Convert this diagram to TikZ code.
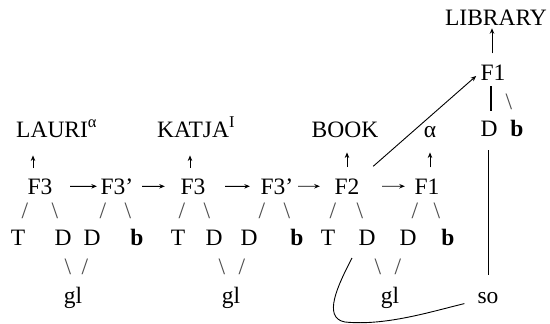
\documentclass[tikz,border=0pt]{standalone}
\usepackage{fontspec}
\setmainfont{Liberation Serif}
\usetikzlibrary{arrows.meta}
\begin{document}
\begin{tikzpicture}[x=1pt,y=-1pt,
  t/.style={inner sep=0pt, anchor=base, font=\fontsize{23.5}{27}\selectfont},
  tw/.style={t, anchor=base west},
  sl/.style={t, text=black!70},
  arr/.style={-{Stealth[length=5.5pt,width=4.5pt]}, line width=0.9pt},
  ln/.style={line width=0.9pt}]
\useasboundingbox (0,0) rectangle (550,324);
% top right
\node[t] (lib) at (496,25) {LIBRARY};
\node[t] (f1t) at (493,80) {F1};
\node[sl] (bst) at (509,109) {\textbackslash};
\node[t] (dt) at (489,136) {D};
\node[t] (bt) at (517,136) {\textbf{b}};
\node[t] (so) at (488,303) {so};
% labels
\node[tw] (lauri) at (16,137) {LAURI\textsuperscript{α}};
\node[tw] (katja) at (157,137) {KATJA\textsuperscript{I}};
\node[t] (book) at (345,137) {BOOK};
\node[t] (alpha) at (430,137) {α};
% F row
\node[t] (f3a) at (40,194) {F3};
\node[t] (f3b) at (117,194) {F3’};
\node[t] (f3c) at (193,194) {F3};
\node[t] (f3d) at (277,194) {F3’};
\node[t] (f2) at (347,194) {F2};
\node[t] (f1) at (427,194) {F1};
% slash row 1
\node[sl] (s1) at (25,218) {/};
\node[sl] (s2) at (55,218) {\textbackslash};
\node[sl] (s3) at (103,218) {/};
\node[sl] (s4) at (128,218) {\textbackslash};
\node[sl] (s5) at (182,218) {/};
\node[sl] (s6) at (207,218) {\textbackslash};
\node[sl] (s7) at (262,218) {/};
\node[sl] (s8) at (287,218) {\textbackslash};
\node[sl] (s9) at (333,218) {/};
\node[sl] (s10) at (360,218) {\textbackslash};
\node[sl] (s11) at (415,218) {/};
\node[sl] (s12) at (437,218) {\textbackslash};
% letter row
\node[t] (t1) at (18,245) {T};
\node[t] (d1) at (63,245) {D};
\node[t] (d2) at (92,245) {D};
\node[t] (b1) at (137,245) {\textbf{b}};
\node[t] (t2) at (178,245) {T};
\node[t] (d3) at (214,245) {D};
\node[t] (d4) at (249,245) {D};
\node[t] (b2) at (297,245) {\textbf{b}};
\node[t] (t3) at (328,245) {T};
\node[t] (d5) at (367,245) {D};
\node[t] (d6) at (408,245) {D};
\node[t] (b3) at (448,245) {\textbf{b}};
% slash row 2
\node[sl] (u1) at (68,274) {\textbackslash};
\node[sl] (u2) at (85,274) {/};
\node[sl] (u3) at (222,274) {\textbackslash};
\node[sl] (u4) at (242,274) {/};
\node[sl] (u5) at (378,274) {\textbackslash};
\node[sl] (u6) at (398,274) {/};
% gl row
\node[t] (g1) at (73,303) {gl};
\node[t] (g2) at (231,303) {gl};
\node[t] (g3) at (390,303) {gl};
% horizontal arrows
\draw[arr, shorten <=17.6pt, shorten >=3.6pt] (f3a.east) -- (f3b.west);
\draw[arr, shorten <=8.6pt, shorten >=15.6pt] (f3b.east) -- (f3c.west);
\draw[arr, shorten <=19.6pt, shorten >=10.6pt] (f3c.east) -- (f3d.west);
\draw[arr, shorten <=4.6pt, shorten >=14.6pt] (f3d.east) -- (f2.west);
\draw[arr, shorten <=22.6pt, shorten >=9.6pt] (f2.east) -- (f1.west);
% vertical arrows
\draw[arr, shorten <=10pt, shorten >=18pt] ([xshift=-7pt]f3a.north) -- ([xshift=-7pt]f3a.north |- lauri.south);
\draw[arr, shorten <=10pt, shorten >=18pt] ([xshift=-3pt]f3c.north) -- ([xshift=-3pt]f3c.north |- katja.south);
\draw[arr, shorten <=11pt, shorten >=15pt] (f2.north) -- (f2.north |- book.south);
\draw[arr, shorten <=11pt, shorten >=15pt] ([xshift=3pt]f1.north) -- ([xshift=3pt]f1.north |- alpha.south);
\draw[arr, shorten <=11pt, shorten >=3pt] ([xshift=-1pt]f1t.north) -- ([xshift=-1pt]f1t.north |- lib.south);
% diagonal
\draw[arr, shorten <=18pt, shorten >=5.6pt] (f2.north east) -- (f1t.west);
% bar and long line
\draw[line width=1.3pt, shorten <=6pt, shorten >=9pt] ([xshift=-2pt]f1t.south) -- ([xshift=2pt]dt.north);
\draw[ln, shorten <=14pt, shorten >=17pt] ([xshift=-1pt]dt.south) -- (so.north);
% curve
\coordinate (cs) at ([shift={(-15,13)}]d5.base);
\coordinate (ce) at ([shift={(-13,6)}]so.west);
\draw[ln] (cs) .. controls (338,285) and (322,318) .. (345,322) .. controls (385,326) and (430,312) .. (ce);
\end{tikzpicture}
\end{document}
